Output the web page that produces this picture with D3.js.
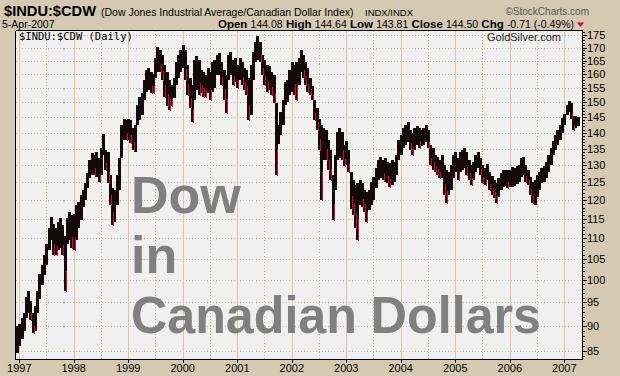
<!DOCTYPE html>
<html>
<head>
<meta charset="utf-8">
<script src="https://cdn.jsdelivr.net/npm/d3@7"></script>
<style>
  html, body { margin: 0; padding: 0; background: #d6c9b1; }
  svg { display: block; font-family: "Liberation Sans", Arial, sans-serif; }
</style>
</head>
<body>
<svg id="chart" width="620" height="376"></svg>
<script>
// ---- data: semi-monthly high / low of $INDU:$CDW ----
// first sample is 16-Dec-1996, then the 1st and 16th of every month
const highs = [
  90.1,
  90.5, 91.6, 92.8, 96.3, 97.6, 95.4, 92.8, 94.3, 97.6, 101.5, 103.6, 105.8, 108.5, 112.5, 115.4, 113.6, 112.5, 114.1, 115.2, 113.3, 110.7, 115.2, 116.8, 115.9,
  116.2, 118.6, 119.4, 121.4, 122.7, 124.8, 127.6, 131.5, 133.6, 133.0, 133.9, 132.1, 135.1, 139.5, 134.5, 133.9, 127.0, 123.3, 122.7, 127.0, 132.1, 142.4, 144.6, 144.1,
  144.6, 144.1, 141.4, 142.4, 149.1, 152.0, 153.3, 157.9, 161.5, 162.2, 160.8, 160.0, 166.0, 170.3, 169.1, 167.1, 163.4, 160.8, 157.9, 156.1, 158.6, 164.5, 167.1, 169.1,
  171.0, 169.1, 163.4, 158.6, 156.1, 165.3, 166.7, 165.3, 161.5, 160.8, 159.7, 162.2, 160.8, 164.5, 165.3, 167.1, 167.8, 164.5, 161.5, 159.7, 167.1, 168.2, 165.3, 166.0,
  163.4, 166.0, 164.5, 162.2, 161.5, 158.6, 163.4, 168.2, 172.2, 174.6, 172.2, 167.1, 165.3, 163.4, 163.0, 160.8, 159.7, 149.1, 142.4, 146.8, 150.8, 157.2, 157.9, 161.5,
  164.5, 163.4, 164.5, 166.0, 169.1, 167.1, 164.5, 162.2, 158.6, 155.8, 150.8, 148.0, 144.6, 142.4, 141.4, 140.8, 137.6, 134.5, 127.0, 133.0, 140.2, 141.4, 140.2, 136.0,
  137.3, 134.5, 127.9, 125.6, 124.2, 124.8, 125.6, 124.8, 122.7, 122.2, 122.7, 125.0, 126.4, 129.1, 131.5, 132.4, 131.5, 132.1, 130.9, 130.6, 131.5, 130.9, 133.0, 137.6,
  139.2, 141.4, 142.4, 143.4, 140.8, 139.8, 141.4, 142.1, 141.4, 140.8, 141.4, 142.4, 140.8, 136.0, 135.1, 133.0, 132.4, 131.5, 133.0, 130.0, 128.5, 127.9, 130.0, 133.0,
  133.9, 132.1, 133.9, 134.5, 135.1, 133.9, 131.5, 130.0, 130.9, 133.0, 133.9, 132.1, 130.0, 129.1, 130.3, 127.9, 126.7, 125.6, 124.8, 126.2, 127.6, 128.5, 128.5, 128.5,
  128.5, 129.4, 129.1, 129.7, 130.0, 132.1, 132.4, 130.0, 128.5, 126.4, 125.0, 125.6, 127.0, 127.9, 129.1, 129.7, 130.9, 133.0, 135.1, 137.3, 139.2, 140.8, 142.4, 144.9,
  146.1, 149.1, 150.5, 149.8, 145.4, 145.4, 145.1
];
const lows = [
  84.7,
  86.1, 87.5, 89.1, 91.6, 92.8, 91.2, 88.7, 89.1, 92.8, 95.8, 98.8, 101.1, 103.4, 107.0, 109.5, 105.8, 105.8, 107.0, 107.5, 105.8, 97.6, 108.7, 109.5, 107.5,
  107.0, 109.5, 112.5, 114.6, 118.1, 120.0, 123.3, 126.2, 127.0, 127.0, 126.4, 125.0, 127.0, 133.0, 128.5, 124.8, 118.6, 113.3, 114.1, 118.6, 122.7, 135.1, 137.6, 137.6,
  137.6, 136.9, 134.5, 133.9, 142.4, 144.1, 145.7, 150.8, 153.6, 154.3, 153.3, 153.3, 158.6, 160.8, 160.8, 157.9, 152.0, 148.7, 147.4, 148.7, 151.5, 156.1, 158.6, 160.8,
  162.2, 157.9, 152.5, 148.0, 143.4, 150.8, 154.3, 152.5, 153.3, 152.0, 152.0, 153.3, 150.8, 153.6, 154.9, 159.7, 159.7, 156.1, 150.8, 146.4, 157.9, 159.7, 156.1, 157.2,
  154.9, 157.9, 156.1, 154.3, 152.5, 144.1, 145.7, 157.9, 164.5, 165.3, 164.5, 159.7, 156.1, 153.6, 154.3, 152.5, 149.8, 127.0, 136.3, 139.2, 142.4, 149.1, 150.1, 152.5,
  153.6, 152.5, 150.8, 156.1, 160.8, 158.6, 156.1, 153.6, 152.5, 150.8, 144.1, 140.8, 134.5, 120.0, 131.5, 131.5, 128.5, 125.6, 114.6, 122.7, 131.5, 132.1, 131.5, 129.6,
  130.0, 127.9, 117.7, 115.9, 112.5, 109.5, 118.6, 118.1, 116.8, 114.1, 117.3, 118.6, 120.0, 123.3, 125.6, 126.2, 125.6, 125.0, 124.8, 123.6, 124.2, 125.0, 127.0, 131.5,
  133.0, 135.1, 136.0, 137.0, 134.5, 133.0, 134.5, 136.0, 135.1, 135.7, 136.0, 137.0, 135.1, 130.0, 128.5, 127.9, 127.0, 126.2, 126.2, 121.4, 119.2, 121.4, 122.7, 126.2,
  127.9, 125.6, 127.9, 128.5, 129.1, 127.0, 125.6, 124.2, 125.6, 127.9, 129.1, 127.0, 124.8, 124.2, 125.6, 122.7, 121.4, 120.6, 119.2, 120.9, 122.7, 123.6, 123.9, 123.3,
  123.6, 123.6, 123.9, 124.5, 125.0, 126.4, 127.0, 125.0, 124.2, 121.4, 119.2, 118.6, 120.9, 122.7, 124.8, 125.0, 126.2, 127.9, 130.0, 133.0, 134.5, 136.0, 137.6, 139.9,
  142.4, 145.7, 146.8, 144.4, 140.8, 141.4, 142.1
];

const yTicks = [85, 90, 95, 100, 105, 110, 115, 120, 125, 130, 135, 140, 145, 150, 155, 160, 165, 170, 175];
const yearLabels = ["1997", "1998", "1999", "2000", "2001", "2002", "2003", "2004", "2005", "2006", "2007"];
const quoteLabels = ["Open", "High", "Low", "Close", "Chg"];
const quoteValues = ["144.08", "144.64", "143.81", "144.50", "-0.71 (-0.49%)"];
const bigTitle = ["Dow", "in", "Canadian Dollars"];

// sample dates
const dates = [new Date(1996, 11, 16)];
for (let yr = 1997; yr <= 2007; yr++) {
  for (let m = 0; m < 12; m++) {
    for (const d of [1, 16]) {
      if (dates.length < highs.length) dates.push(new Date(yr, m, d));
    }
  }
}
// each bar also reaches the previous one, so the band stays continuous
const series = highs.map((h, i) => {
  const prevH = i ? highs[i - 1] : h, prevL = i ? lows[i - 1] : lows[i];
  return {
    date: dates[i], high: h, low: lows[i],
    top: Math.max(h, prevL), bottom: Math.min(lows[i], prevH),
    down: i > 0 && (h + lows[i]) < (prevH + prevL)
  };
});

// ---- layout ----
const W = 620, H = 376;
const plot = { left: 15.5, right: 582.5, top: 30.5, bottom: 359.5 };
const gridColor = "#cbb899";

const svg = d3.select("#chart");

svg.append("rect").attr("width", W).attr("height", H).attr("fill", "#d6c9b1");

const x = d3.scaleTime()
  .domain([new Date(1996, 11, 8), new Date(2007, 4, 3)])
  .range([15.7, 582.5]);
const y = d3.scaleLog()
  .domain([83.5, 176.6])
  .range([359, 31]);

// plot background
svg.append("rect")
  .attr("x", plot.left).attr("y", plot.top)
  .attr("width", plot.right - plot.left).attr("height", plot.bottom - plot.top)
  .attr("fill", "#f0f0f0");

// grid
const grid = svg.append("g").attr("shape-rendering", "crispEdges");
grid.selectAll(".hgrid")
  .data(yTicks)
  .join("line")
  .attr("x1", plot.left).attr("x2", plot.right)
  .attr("y1", d => Math.round(y(d)) + 0.5).attr("y2", d => Math.round(y(d)) + 0.5)
  .attr("stroke", gridColor).attr("stroke-dasharray", "1,2");

const yearDates = yearLabels.map(s => new Date(+s, 0, 1));
const midDates = yearLabels.map(s => new Date(+s - 1, 6, 1))
  .filter(d => x(d) > plot.left);

grid.selectAll(".vmid")
  .data(midDates)
  .join("line")
  .attr("x1", d => Math.round(x(d)) + 0.5).attr("x2", d => Math.round(x(d)) + 0.5)
  .attr("y1", plot.top).attr("y2", plot.bottom)
  .attr("stroke", gridColor).attr("stroke-dasharray", "1,2");

grid.selectAll(".vyear")
  .data(yearDates)
  .join("line")
  .attr("x1", d => Math.round(x(d)) + 0.5).attr("x2", d => Math.round(x(d)) + 0.5)
  .attr("y1", plot.top).attr("y2", plot.bottom)
  .attr("stroke", "#d8c8a8");

// watermark title
const wm = svg.append("g")
  .attr("fill", "#808080")
  .attr("font-weight", "bold")
  .attr("font-size", 52);
wm.append("text").attr("x", 131).attr("y", 213).text(bigTitle[0]);
wm.append("text").attr("x", 131).attr("y", 273).text(bigTitle[1]);
wm.append("text").attr("x", 131).attr("y", 333)
  .attr("textLength", 410).attr("lengthAdjust", "spacingAndGlyphs")
  .text(bigTitle[2]);

// price bars
const bars = svg.append("g").attr("shape-rendering", "crispEdges");
bars.selectAll("rect.bar")
  .data(series)
  .join("rect")
  .attr("class", "bar")
  .attr("x", d => Math.round(x(d.date)) - 1)
  .attr("width", 3)
  .attr("y", d => Math.round(y(d.top)))
  .attr("height", d => Math.max(1, Math.round(y(d.bottom)) - Math.round(y(d.top))))
  .attr("fill", "#120a0a");

// red specks for falling periods, near the lows
bars.selectAll("rect.down")
  .data(series.filter(d => d.down))
  .join("rect")
  .attr("class", "down")
  .attr("x", d => Math.round(x(d.date)) + 1)
  .attr("width", 1)
  .attr("y", d => Math.round(y(d.low + (d.high - d.low) * 0.35)))
  .attr("height", d => Math.max(2, Math.round(y(d.low)) - Math.round(y(d.low + (d.high - d.low) * 0.35)) + 1))
  .attr("fill", "#e0003c");

// frame
const frame = svg.append("g").attr("stroke", "#000").attr("shape-rendering", "crispEdges");
frame.append("line").attr("x1", plot.left).attr("x2", plot.left).attr("y1", plot.top).attr("y2", plot.bottom);
frame.append("line").attr("x1", plot.left).attr("x2", plot.right).attr("y1", plot.top).attr("y2", plot.top);
frame.append("line").attr("x1", plot.left).attr("x2", plot.right).attr("y1", plot.bottom).attr("y2", plot.bottom);
frame.append("line").attr("x1", plot.right).attr("x2", plot.right).attr("y1", plot.top).attr("y2", plot.bottom);

// right axis: minor ticks each unit, major ticks at labels
const minor = d3.range(84, 177);
frame.selectAll(".minor")
  .data(minor)
  .join("line")
  .attr("x1", plot.right).attr("x2", plot.right + 2)
  .attr("y1", d => Math.round(y(d)) + 0.5).attr("y2", d => Math.round(y(d)) + 0.5);
frame.selectAll(".major")
  .data(yTicks)
  .join("line")
  .attr("x1", plot.right).attr("x2", plot.right + 4)
  .attr("y1", d => Math.round(y(d)) + 0.5).attr("y2", d => Math.round(y(d)) + 0.5);

svg.append("g")
  .attr("font-size", 11)
  .attr("fill", "#000")
  .selectAll("text")
  .data(yTicks)
  .join("text")
  .attr("x", 587)
  .attr("y", d => y(d))
  .attr("dy", "0.36em")
  .text(d => d);

// bottom axis
frame.selectAll(".xtick")
  .data(yearDates)
  .join("line")
  .attr("x1", d => Math.round(x(d)) + 0.5).attr("x2", d => Math.round(x(d)) + 0.5)
  .attr("y1", plot.bottom).attr("y2", plot.bottom + 3);

svg.append("g")
  .attr("font-size", 11)
  .attr("text-anchor", "middle")
  .selectAll("text")
  .data(yearDates)
  .join("text")
  .attr("x", d => x(d))
  .attr("y", 372)
  .text((d, i) => yearLabels[i]);

// header
svg.append("text").attr("x", 4).attr("y", 16)
  .attr("font-size", 15).attr("font-weight", "bold")
  .attr("textLength", 92).attr("lengthAdjust", "spacingAndGlyphs").text("$INDU:$CDW");
svg.append("text").attr("x", 101).attr("y", 16)
  .attr("font-size", 10.5)
  .text("(Dow Jones Industrial Average/Canadian Dollar Index)");
svg.append("text").attr("x", 365).attr("y", 16)
  .attr("font-size", 9.5).text("INDX/INDX");
svg.append("text").attr("x", 589).attr("y", 15)
  .attr("font-size", 10).attr("fill", "#555").attr("text-anchor", "end").text("\u00A9StockCharts.com");
svg.append("text").attr("x", 2).attr("y", 28)
  .attr("font-size", 10.5).text("5-Apr-2007");

const quote = svg.append("text").attr("x", 574).attr("y", 28).attr("text-anchor", "end");
quoteLabels.forEach((lab, i) => {
  quote.append("tspan").attr("font-weight", "bold").attr("font-size", 11.5).text((i ? " " : "") + lab + " ");
  quote.append("tspan").attr("font-size", 10.5).text(quoteValues[i]);
});
svg.append("path").attr("d", "M577,22.5 L584,22.5 L580.5,27 Z").attr("fill", "#e0003c");

// inside-plot labels
svg.append("text").attr("x", 19).attr("y", 40)
  .attr("font-family", "'DejaVu Sans Mono', monospace").attr("font-size", 10.5)
  .text("$INDU:$CDW (Daily)");
svg.append("text").attr("x", 561).attr("y", 41)
  .attr("font-size", 11).attr("fill", "#222").attr("text-anchor", "end").text("GoldSilver.com");
</script>
</body>
</html>
